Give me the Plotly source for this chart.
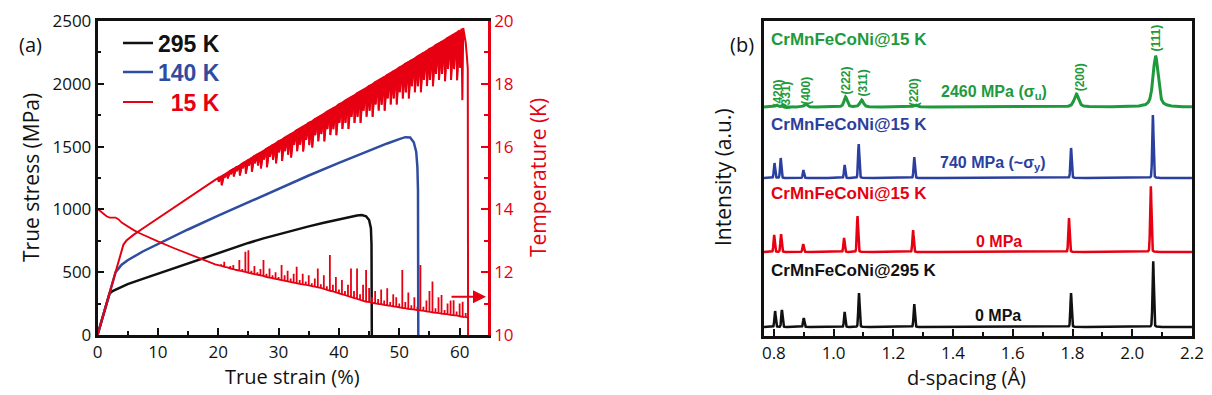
import numpy as np
import plotly.graph_objects as go

W, H = 1212, 395

# ---------------- Panel (a): stress-strain + temperature ----------------
strain_295 = [0, 0.5, 1.0, 1.5, 2.0, 2.5, 3.0, 5.0, 7.5, 10, 12.5, 15, 17.5, 20, 22.5, 25, 27.5,
              30, 32.5, 35, 37.5, 40, 41, 42, 43, 43.8, 44.5, 45.0, 45.3, 45.4, 45.45]
stress_295 = [0, 85, 170, 255, 330, 350, 362, 405, 447, 488, 530, 572, 614, 655, 695, 733, 769,
              803, 835, 865, 893, 920, 932, 943, 952, 955, 945, 915, 850, 720, 0]

strain_140 = [0, 1, 2, 2.5, 3, 4, 5, 7.5, 10, 15, 20, 25, 30, 35, 40, 45, 48, 50, 51, 51.8,
              52.4, 52.8, 53.0, 53.1, 53.15]
stress_140 = [0, 170, 340, 430, 500, 560, 595, 665, 725, 840, 950, 1058, 1165, 1270, 1370, 1470,
              1525, 1560, 1575, 1572, 1535, 1460, 1340, 1150, 0]

strain_15_pre = [0, 1, 2, 3, 4, 4.3, 4.8, 5.3, 5.9, 7.5, 10, 12.5, 15, 17.5, 19.5]
stress_15_pre = [0, 168, 336, 504, 672, 720, 752, 775, 795, 848, 930, 1010, 1090, 1170, 1235]

serr_strain = [20.0, 20.5, 21.0, 21.5, 22.0, 22.5, 23.0, 23.5, 24.0, 24.5, 25.0, 25.5, 26.0, 26.5,
               27.0, 27.5, 28.0, 28.5, 29.0, 29.5, 30.0, 30.5, 31.0, 31.5, 32.0, 32.5, 33.0, 33.5,
               34.0, 34.5, 35.0, 35.5, 36.0, 36.5, 37.0, 37.5, 38.0, 38.5, 39.0, 39.5, 40.0, 40.5,
               41.0, 41.5, 42.0, 42.5, 43.0, 43.5, 44.0, 44.5, 45.0, 45.5, 46.0, 46.5, 47.0, 47.5,
               48.0, 48.5, 49.0, 49.5, 50.0, 50.5, 51.0, 51.5, 52.0, 52.5, 53.0, 53.5, 54.0, 54.5,
               55.0, 55.5, 56.0, 56.5, 57.0, 57.5, 58.0, 58.5, 59.0, 59.5, 60.0]
serr_top = [1250, 1262, 1280, 1292, 1310, 1322, 1340, 1350, 1368, 1380,
            1398, 1410, 1428, 1440, 1456, 1468, 1486, 1498, 1515, 1527,
            1545, 1556, 1574, 1586, 1603, 1615, 1633, 1645, 1662, 1674,
            1692, 1703, 1721, 1733, 1750, 1762, 1780, 1792, 1809, 1821,
            1839, 1850, 1868, 1880, 1897, 1909, 1927, 1939, 1956, 1968,
            1986, 1997, 2015, 2027, 2044, 2056, 2074, 2086, 2103, 2115,
            2133, 2144, 2162, 2174, 2191, 2203, 2221, 2233, 2250, 2262,
            2280, 2291, 2309, 2321, 2338, 2350, 2368, 2380, 2397, 2409,
            2427]
serr_drop = [30, 70, 25, 45, 30, 60, 35, 80, 40, 95,
             50, 110, 60, 90, 130, 70, 150, 80, 120, 160,
             90, 170, 110, 150, 190, 100, 170, 130, 200, 120,
             180, 210, 130, 190, 150, 220, 140, 200, 170, 230,
             150, 210, 180, 240, 160, 220, 190, 250, 170, 230,
             200, 260, 180, 240, 210, 270, 190, 250, 220, 280,
             200, 260, 230, 290, 210, 270, 240, 300, 220, 280,
             250, 310, 230, 290, 260, 330, 250, 350, 280, 380,
             300]
strain_15_end = [60.3, 60.45, 60.6, 60.8, 61.0, 61.2, 61.35, 61.4]
stress_15_end = [2440, 1870, 2445, 2380, 2330, 2220, 2120, 0]

temp_strain = [0, 0.5, 1.0, 1.5, 2.0, 3.0, 3.5, 4.0, 5.0, 6.0, 7.0, 8.5, 10.0, 12.5, 15.0, 17.5, 19.5,
               20.0, 20.5, 21.0, 21.5, 22.0, 22.5, 23.0, 23.5, 24.0, 24.5, 25.0, 25.5, 26.0, 26.5,
               27.0, 27.5, 28.0, 28.5, 29.0, 29.5, 30.0, 30.5, 31.0, 31.5, 32.0, 32.5, 33.0, 33.5,
               34.0, 34.5, 35.0, 35.5, 36.0, 36.5, 37.0, 37.5, 38.0, 38.5, 39.0, 39.5, 40.0, 40.5,
               41.0, 41.5, 42.0, 42.5, 43.0, 43.5, 44.0, 44.5, 45.0, 45.5, 46.0, 46.5, 47.0, 47.5,
               48.0, 48.5, 49.0, 49.5, 50.0, 50.5, 51.0, 51.5, 52.0, 52.5, 53.0, 53.5, 54.0, 54.5,
               55.0, 55.5, 56.0, 56.5, 57.0, 57.5, 58.0, 58.5, 59.0, 59.5, 60.0, 60.5, 61.0, 61.5]
temp_base = [14.02, 13.95, 13.86, 13.78, 13.74, 13.74, 13.68, 13.58, 13.45, 13.34, 13.24, 13.10,
             12.98, 12.78, 12.58, 12.40, 12.25,
             12.22, 12.20, 12.17, 12.15, 12.12, 12.10, 12.07, 12.05, 12.03, 12.01,
             11.98, 11.96, 11.94, 11.92, 11.90, 11.88, 11.85, 11.83, 11.81, 11.79,
             11.77, 11.75, 11.73, 11.71, 11.69, 11.67, 11.65, 11.63, 11.61, 11.60,
             11.58, 11.56, 11.54, 11.52, 11.50, 11.47, 11.44, 11.41, 11.39, 11.36,
             11.33, 11.30, 11.27, 11.24, 11.21, 11.18, 11.15, 11.12, 11.09, 11.06,
             11.05, 11.03, 11.01, 10.99, 10.98, 10.96, 10.94, 10.93, 10.91, 10.90,
             10.88, 10.86, 10.85, 10.83, 10.82, 10.81, 10.80, 10.78, 10.77, 10.75,
             10.74, 10.72, 10.71, 10.70, 10.68, 10.67, 10.66, 10.64, 10.63, 10.62,
             10.60, 10.58, 10.57, 10.55]
temp_peak = [14.02, 13.95, 13.86, 13.78, 13.74, 13.74, 13.68, 13.58, 13.45, 13.34, 13.24, 13.10,
             12.98, 12.78, 12.58, 12.40, 12.25,
             12.22, 12.25, 12.33, 12.15, 12.20, 12.23, 12.10, 12.39, 12.10, 12.65,
             12.70, 12.05, 12.20, 12.00, 12.10, 12.39, 11.95, 12.12, 11.90, 12.00,
             11.85, 12.23, 11.90, 12.05, 11.80, 11.95, 12.17, 11.75, 11.95, 11.70,
             11.90, 11.65, 11.80, 12.12, 11.62, 11.90, 11.55, 12.55, 11.60, 11.85,
             11.45, 11.75, 11.40, 11.60, 12.12, 11.40, 12.12, 11.30, 11.60, 12.07,
             11.50, 11.20, 11.40, 11.15, 11.45, 11.10, 11.49, 11.05, 11.30, 11.20,
             11.00, 12.07, 11.05, 11.35, 10.95, 11.20, 10.90, 12.23, 10.90, 11.10,
             11.40, 11.70, 10.85, 11.20, 11.27, 10.80, 11.00, 11.10, 11.11, 10.75,
             11.00, 11.06, 10.70, 10.55]

legend_names = ["295 K", "140 K", "\u200715 K"]

# ---------------- Panel (b): diffraction patterns ----------------
hkl_labels = ["(420)", "(331)", "(400)", "(222)", "(311)", "(220)", "(200)", "(111)"]
pos_295 = [0.804, 0.827, 0.900, 1.037, 1.085, 1.270, 1.795, 2.070]
int_295 = [16, 17, 9, 15, 34, 23, 34, 66]
pos_15_0 = [0.801, 0.824, 0.898, 1.035, 1.080, 1.266, 1.788, 2.062]
int_15_0 = [17, 18, 8, 14, 36, 22, 34, 66]
pos_15_740 = [0.802, 0.823, 0.899, 1.037, 1.084, 1.270, 1.795, 2.069]
int_15_740 = [15, 20, 8, 13, 34, 21, 30, 63]
pos_15_2460 = [0.809, 0.831, 0.906, 1.040, 1.094, 1.274, 1.813, 2.078]
int_15_2460 = [2, 2, 3, 10, 7, 2, 13, 51]
width_15_2460 = [0.010, 0.010, 0.012, 0.012, 0.014, 0.014, 0.018, 0.020]
offsets = {"295": 9, "0": 84, "740": 158, "2460": 229}

RED = "#e60012"
BLUE_A = "#2f4da0"
GREEN = "#1e9a3c"
BLUE_B = "#2b3f9e"
BLACK = "#111111"
TXT = "Liberation Sans"
TICK = "Open Sans"


def px(x):
    return x / W


def py(y):
    return 1 - y / H


fig = go.Figure()

# stress curves
fig.add_trace(go.Scatter(x=strain_295, y=stress_295, mode="lines", xaxis="x", yaxis="y",
                         line=dict(color=BLACK, width=2.5), legend="legend",
                         name=f"<b><span style='color:{BLACK}'>{legend_names[0]}</span></b>"))
fig.add_trace(go.Scatter(x=strain_140, y=stress_140, mode="lines", xaxis="x", yaxis="y",
                         line=dict(color=BLUE_A, width=2.5), legend="legend2",
                         name=f"<b><span style='color:{BLUE_A}'>{legend_names[1]}</span></b>"))

# 15 K: serrated band (envelope of the serration tops, filled down to the serrations)
fig.add_trace(go.Scatter(x=serr_strain, y=serr_top, mode="lines", xaxis="x", yaxis="y",
                         line=dict(color=RED, width=1.5), showlegend=False, hoverinfo="skip"))
xs, ys = [], []
for s, t, d in zip(serr_strain, serr_top, serr_drop):
    xs += [s, s + 0.08]
    ys += [t, t - d]
fig.add_trace(go.Scatter(x=xs, y=ys, mode="lines", xaxis="x", yaxis="y", fill="tonexty",
                         fillcolor=RED, line=dict(color=RED, width=1.5), showlegend=False,
                         hoverinfo="skip"))

x15 = list(strain_15_pre)
y15 = list(stress_15_pre)
for s, t, d in zip(serr_strain, serr_top, serr_drop):
    x15 += [s, s + 0.08]
    y15 += [t, t - d]
x15 += strain_15_end
y15 += stress_15_end
fig.add_trace(go.Scatter(x=x15, y=y15, mode="lines", xaxis="x", yaxis="y",
                         line=dict(color=RED, width=2), legend="legend3",
                         name=f"<b><span style='color:{RED}'>{legend_names[2]}</span></b>"))

# temperature (right axis)
xt, yt = [], []
for s, b, p in zip(temp_strain, temp_base, temp_peak):
    if p > b:
        xt += [s, s, s]
        yt += [b, p, b]
    else:
        xt.append(s)
        yt.append(b)
fig.add_trace(go.Scatter(x=xt, y=yt, mode="lines", xaxis="x", yaxis="y2", showlegend=False,
                         line=dict(color=RED, width=1.8), name="Temperature"))

# diffraction patterns
dgrid = np.arange(0.767, 2.2001, 0.0004)


def pattern(centers, heights, widths, eta):
    y = np.zeros_like(dgrid)
    for c, h, w in zip(centers, heights, widths):
        u = (dgrid - c) / w
        y += h * ((1 - eta) * np.exp(-4 * np.log(2) * u ** 2) + eta / (1 + 4 * u ** 2))
    return y


narrow = [0.005] * len(hkl_labels)
series_b = [
    (pos_295, int_295, narrow, 0.15, offsets["295"], BLACK, 2.5, "CrMnFeCoNi@295 K, 0 MPa"),
    (pos_15_0, int_15_0, narrow, 0.15, offsets["0"], RED, 2.5, "CrMnFeCoNi@15 K, 0 MPa"),
    (pos_15_740, int_15_740, narrow, 0.15, offsets["740"], BLUE_B, 2.5, "CrMnFeCoNi@15 K, 740 MPa"),
    (pos_15_2460, int_15_2460, width_15_2460, 0.6, offsets["2460"], GREEN, 3, "CrMnFeCoNi@15 K, 2460 MPa"),
]
for c, h, w, eta, off, col, lw, nm in series_b:
    fig.add_trace(go.Scatter(x=dgrid, y=pattern(c, h, w, eta) + off, mode="lines",
                             xaxis="x2", yaxis="y3", showlegend=False,
                             line=dict(color=col, width=lw), name=nm))

axis_common = dict(showgrid=False, zeroline=False, showline=True, linewidth=2.5,
                   automargin=False, ticks="inside", tickwidth=2)


def leg(yc):
    return dict(x=px(118), y=py(yc), xanchor="left", yanchor="middle",
                bgcolor="rgba(0,0,0,0)", font=dict(family=TXT, size=23, color=BLACK),
                borderwidth=0, itemwidth=30)


fig.update_layout(
    width=W, height=H,
    margin=dict(l=0, r=0, t=0, b=0, pad=0),
    paper_bgcolor="white", plot_bgcolor="white",
    showlegend=True,
    legend=leg(43), legend2=leg(72), legend3=leg(102),
    xaxis=dict(**axis_common, domain=[px(97.5), px(488)], range=[0, 64.7], anchor="y",
               linecolor=BLACK, mirror=True, tickcolor=BLACK, ticklen=7, dtick=10, tick0=0,
               minor=dict(dtick=5, ticks="inside", ticklen=4, tickwidth=2, tickcolor=BLACK),
               tickfont=dict(family=TICK, size=17, color=BLACK)),
    yaxis=dict(**axis_common, domain=[1 - 335 / H, 1 - 21 / H], range=[0, 2500], anchor="x",
               linecolor=BLACK, tickcolor=BLACK, ticklen=7, dtick=500, tick0=0,
               minor=dict(dtick=250, ticks="inside", ticklen=4, tickwidth=2, tickcolor=BLACK),
               tickfont=dict(family=TICK, size=17, color=BLACK)),
    yaxis2=dict(**axis_common, overlaying="y", side="right", anchor="x", range=[10, 20],
                linecolor=RED, tickcolor=RED, ticklen=7, dtick=2, tick0=10,
                minor=dict(dtick=1, ticks="inside", ticklen=4, tickwidth=2, tickcolor=RED),
                tickfont=dict(family=TICK, size=17, color=RED)),
    xaxis2=dict(**axis_common, domain=[px(764), px(1192)], range=[0.767, 2.2], anchor="y3",
                linecolor=BLACK, mirror=True, tickcolor=BLACK, ticklen=7, dtick=0.2, tick0=0.8,
                tickformat=".1f",
                minor=dict(dtick=0.1, ticks="inside", ticklen=4, tickwidth=2, tickcolor=BLACK),
                tickfont=dict(family=TICK, size=17, color=BLACK)),
    yaxis3=dict(showgrid=False, zeroline=False, showline=True, linewidth=2.5, automargin=False,
                domain=[1 - 336 / H, 1 - 21 / H], range=[0, 315], anchor="x2",
                linecolor=BLACK, mirror=True, ticks="", showticklabels=False),
)

ann = []


def paper_text(text, x, y, size, color, angle=0, family=TICK, xanchor="center"):
    return dict(text=text, x=px(x), y=py(y), xref="paper", yref="paper", textangle=angle,
                xanchor=xanchor, yanchor="middle", showarrow=False,
                font=dict(family=family, size=size, color=color))


# axis titles
ann.append(paper_text("True strain (%)", 292.5, 376, 20, BLACK))
ann.append(paper_text("True stress (MPa)", 31, 178, 21, BLACK, angle=-90))
ann.append(paper_text("Temperature (K)", 538, 178, 21, RED, angle=-90))
ann.append(paper_text("d-spacing (Å)", 966.7, 377, 20, BLACK))
ann.append(paper_text("Intensity (a.u.)", 723, 177, 21, BLACK, angle=-90))
# panel labels
ann.append(paper_text("(a)", 30, 44, 20, BLACK))
ann.append(paper_text("(b)", 742, 44, 20, BLACK))
# arrow to the temperature axis
ann.append(dict(text="", x=px(486), y=py(296.7), xref="paper", yref="paper", showarrow=True,
                ax=-36, ay=0, arrowhead=2, arrowsize=1.3, arrowwidth=2, arrowcolor=RED))

# sample labels in panel (b)
for txt, yy, col in [("CrMnFeCoNi@15 K", 40, GREEN), ("CrMnFeCoNi@15 K", 124, BLUE_B),
                     ("CrMnFeCoNi@15 K", 194, RED), ("CrMnFeCoNi@295 K", 270, BLACK)]:
    ann.append(paper_text(f"<b>{txt}</b>", 769, yy, 17, col, family=TXT, xanchor="left"))
for txt, xx, yy, col, anc in [("2460 MPa (σ<sub>u</sub>)", 1049, 92, GREEN, "right"),
                              ("740 MPa (~σ<sub>y</sub>)", 1048, 163, BLUE_B, "right"),
                              ("0 MPa", 974, 241, RED, "left"),
                              ("0 MPa", 973, 315, BLACK, "left")]:
    ann.append(paper_text(f"<b>{txt}</b>", xx, yy, 16, col, family=TXT, xanchor=anc))

# hkl labels (rotated) above the top pattern
hkl_x = [0.8125, 0.842, 0.907, 1.040, 1.097, 1.270, 1.826, 2.078]
hkl_y = [242, 241, 245, 255, 253, 244, 259, 298]
for lab, xx, yy in zip(hkl_labels, hkl_x, hkl_y):
    ann.append(dict(text=f"<b>{lab}</b>", x=xx, y=yy, xref="x2", yref="y3", textangle=-90,
                    xanchor="center", yanchor="middle", showarrow=False,
                    font=dict(family=TXT, size=12, color=GREEN)))

fig.update_layout(annotations=ann)
fig.write_html("out.html", config={"displayModeBar": False},
               post_script="document.body.style.margin='0px';document.body.style.overflow='hidden';")
